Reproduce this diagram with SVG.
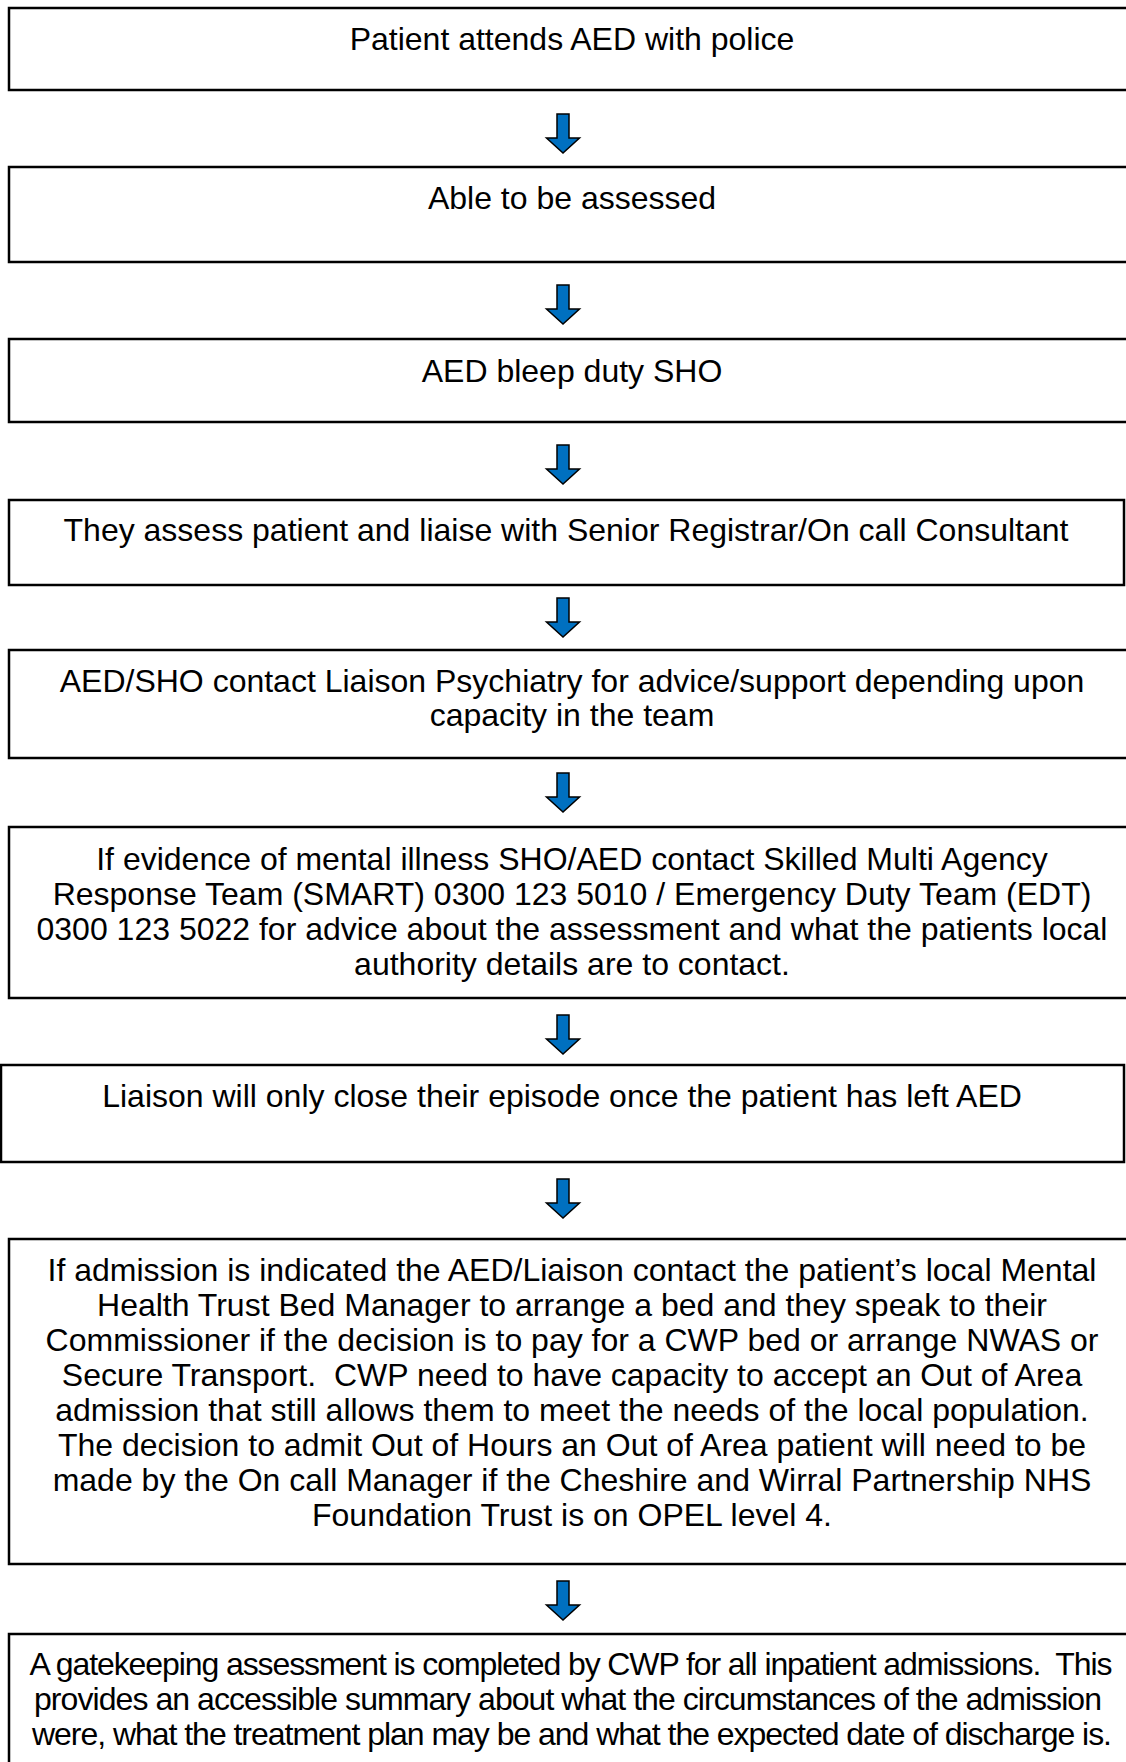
<svg xmlns="http://www.w3.org/2000/svg" width="1126" height="1762" viewBox="0 0 1126 1762">
<style>
.box{fill:#ffffff;stroke:#000000;stroke-width:2.5}
.t{font-family:"Liberation Sans",Arial,sans-serif;font-size:32px;fill:#000000;text-anchor:middle}
.arr{fill:#0070C0;stroke:#000000;stroke-width:1.5;stroke-linejoin:miter}
</style>
<defs>
<path id="dn" d="M-6,0 H6 V24 H16.5 L0,39 L-16.5,24 H-6 Z"/>
</defs>
<rect width="1126" height="1762" fill="#ffffff"/>
<g id="connectors">
<use href="#dn" class="arr" x="563" y="114"/>
<use href="#dn" class="arr" x="563" y="285"/>
<use href="#dn" class="arr" x="563" y="445"/>
<use href="#dn" class="arr" x="563" y="598"/>
<use href="#dn" class="arr" x="563" y="773"/>
<use href="#dn" class="arr" x="563" y="1015"/>
<use href="#dn" class="arr" x="563" y="1179"/>
<use href="#dn" class="arr" x="563" y="1581"/>
</g>
<g id="n1"><rect class="box" x="9" y="8" width="1130" height="82"/>
<text class="t" x="572" y="50">Patient attends AED with police</text></g>
<g id="n2"><rect class="box" x="9" y="167" width="1130" height="95"/>
<text class="t" x="572" y="209">Able to be assessed</text></g>
<g id="n3"><rect class="box" x="9" y="339" width="1130" height="83"/>
<text class="t" x="572" y="382">AED bleep duty SHO</text></g>
<g id="n4"><rect class="box" x="9" y="500" width="1115" height="85"/>
<text class="t" x="566" y="541">They assess patient and liaise with Senior Registrar/On call Consultant</text></g>
<g id="n5"><rect class="box" x="9" y="650" width="1130" height="108"/>
<text class="t" x="572" y="692">AED/SHO contact Liaison Psychiatry for advice/support depending upon</text>
<text class="t" x="572" y="726">capacity in the team</text></g>
<g id="n6"><rect class="box" x="9" y="827" width="1130" height="171"/>
<text class="t" x="572" y="870">If evidence of mental illness SHO/AED contact Skilled Multi Agency</text>
<text class="t" x="572" y="905">Response Team (SMART) 0300 123 5010 / Emergency Duty Team (EDT)</text>
<text class="t" x="572" y="940">0300 123 5022 for advice about the assessment and what the patients local</text>
<text class="t" x="572" y="975">authority details are to contact.</text></g>
<g id="n7"><rect class="box" x="1" y="1065" width="1123" height="97"/>
<text class="t" x="562" y="1107">Liaison will only close their episode once the patient has left AED</text></g>
<g id="n8"><rect class="box" x="9" y="1239" width="1130" height="325"/>
<text class="t" x="572" y="1281">If admission is indicated the AED/Liaison contact the patient’s local Mental</text>
<text class="t" x="572" y="1316">Health Trust Bed Manager to arrange a bed and they speak to their</text>
<text class="t" x="572" y="1351">Commissioner if the decision is to pay for a CWP bed or arrange NWAS or</text>
<text class="t" x="572" y="1386">Secure Transport.&#160; CWP need to have capacity to accept an Out of Area</text>
<text class="t" x="572" y="1421">admission that still allows them to meet the needs of the local population.</text>
<text class="t" x="572" y="1456">The decision to admit Out of Hours an Out of Area patient will need to be</text>
<text class="t" x="572" y="1491">made by the On call Manager if the Cheshire and Wirral Partnership NHS</text>
<text class="t" x="572" y="1526">Foundation Trust is on OPEL level 4.</text></g>
<g id="n9"><rect class="box" x="9" y="1634" width="1130" height="140"/>
<text class="t" x="571" y="1675" textLength="1083" lengthAdjust="spacing">A gatekeeping assessment is completed by CWP for all inpatient admissions.&#160; This</text>
<text class="t" x="568" y="1710" textLength="1068" lengthAdjust="spacing">provides an accessible summary about what the circumstances of the admission</text>
<text class="t" x="572" y="1745" textLength="1080" lengthAdjust="spacing">were, what the treatment plan may be and what the expected date of discharge is.</text></g>
</svg>
